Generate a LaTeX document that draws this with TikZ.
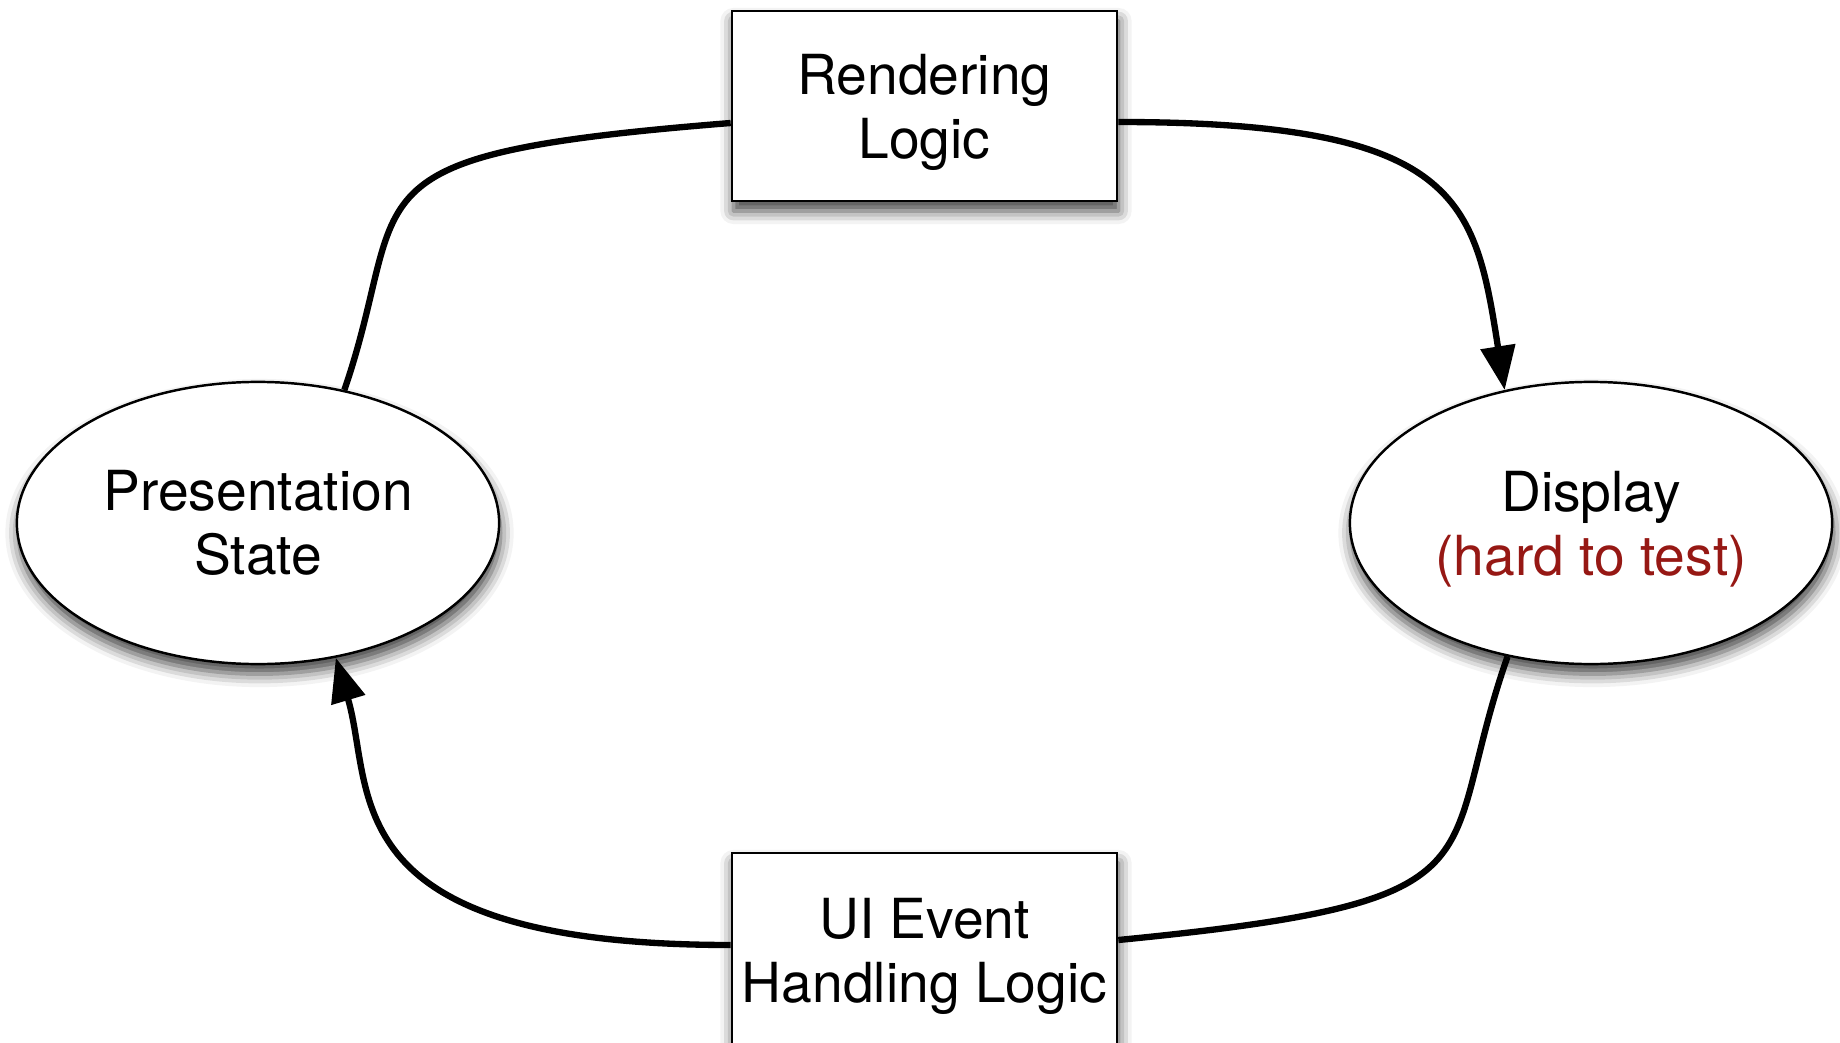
\documentclass[tikz,border=0pt]{standalone}
\usepackage{fontspec}
\setmainfont{TeX Gyre Heros}
\usetikzlibrary{shapes.geometric,arrows.meta,shadows.blur}
\definecolor{hardred}{RGB}{150,24,20}
\tikzset{
  softshade/.style={blur shadow={shadow xshift=0.015cm, shadow yshift=-0.1cm,
      shadow blur radius=0.13cm, shadow opacity=75}},
  logicbox/.style={draw=black, line width=0.7pt, fill=white, rectangle,
      minimum width=3.85cm, minimum height=1.9cm, inner sep=0pt,
      align=center, softshade},
  stateoval/.style={draw=black, line width=0.7pt, fill=white, ellipse,
      minimum width=4.82cm, minimum height=2.82cm, inner sep=0pt,
      align=center, softshade},
  flow/.style={line width=1.8pt, draw=black},
  flowarrow/.style={flow, -{Triangle[length=0.44cm,width=0.34cm]}}
}
\begin{document}
\begin{tikzpicture}[x=0.01cm, y=-0.01cm,
    font=\fontsize{15.7}{18.2}\selectfont]
  \useasboundingbox (0,0) rectangle (1840,1043);

  % the four stages of the loop
  \node[logicbox] (render) at (924.5,106) {Rendering\\\smash{Logic}};
  \node[logicbox, minimum height=2.06cm] (event) at (924.5,956) {UI Event\\Handling Logic};
  \node[stateoval] (pstate) at (258,523) {Presentation\\State};
  \node[stateoval] (display) at (1591,523) {Display\\\smash{\textcolor{hardred}{(hard to test)}}};

  % state feeds the rendering logic
  \draw[flow] (pstate.57) .. controls (413,190) and (330,155) .. ([yshift=-0.17cm]render.west);
  % rendering logic updates the display
  \draw[flowarrow] ([yshift=-0.16cm]render.east) .. controls (1460,122) and (1475,200) .. (display.123);
  % display raises UI events
  \draw[flow] (display.238) .. controls (1434,866) and (1517,901) .. ([yshift=0.16cm]event.east);
  % event handling changes the presentation state
  \draw[flowarrow] ([yshift=0.11cm]event.west) .. controls (330,945) and (375,790) .. (pstate.300);
\end{tikzpicture}
\end{document}
